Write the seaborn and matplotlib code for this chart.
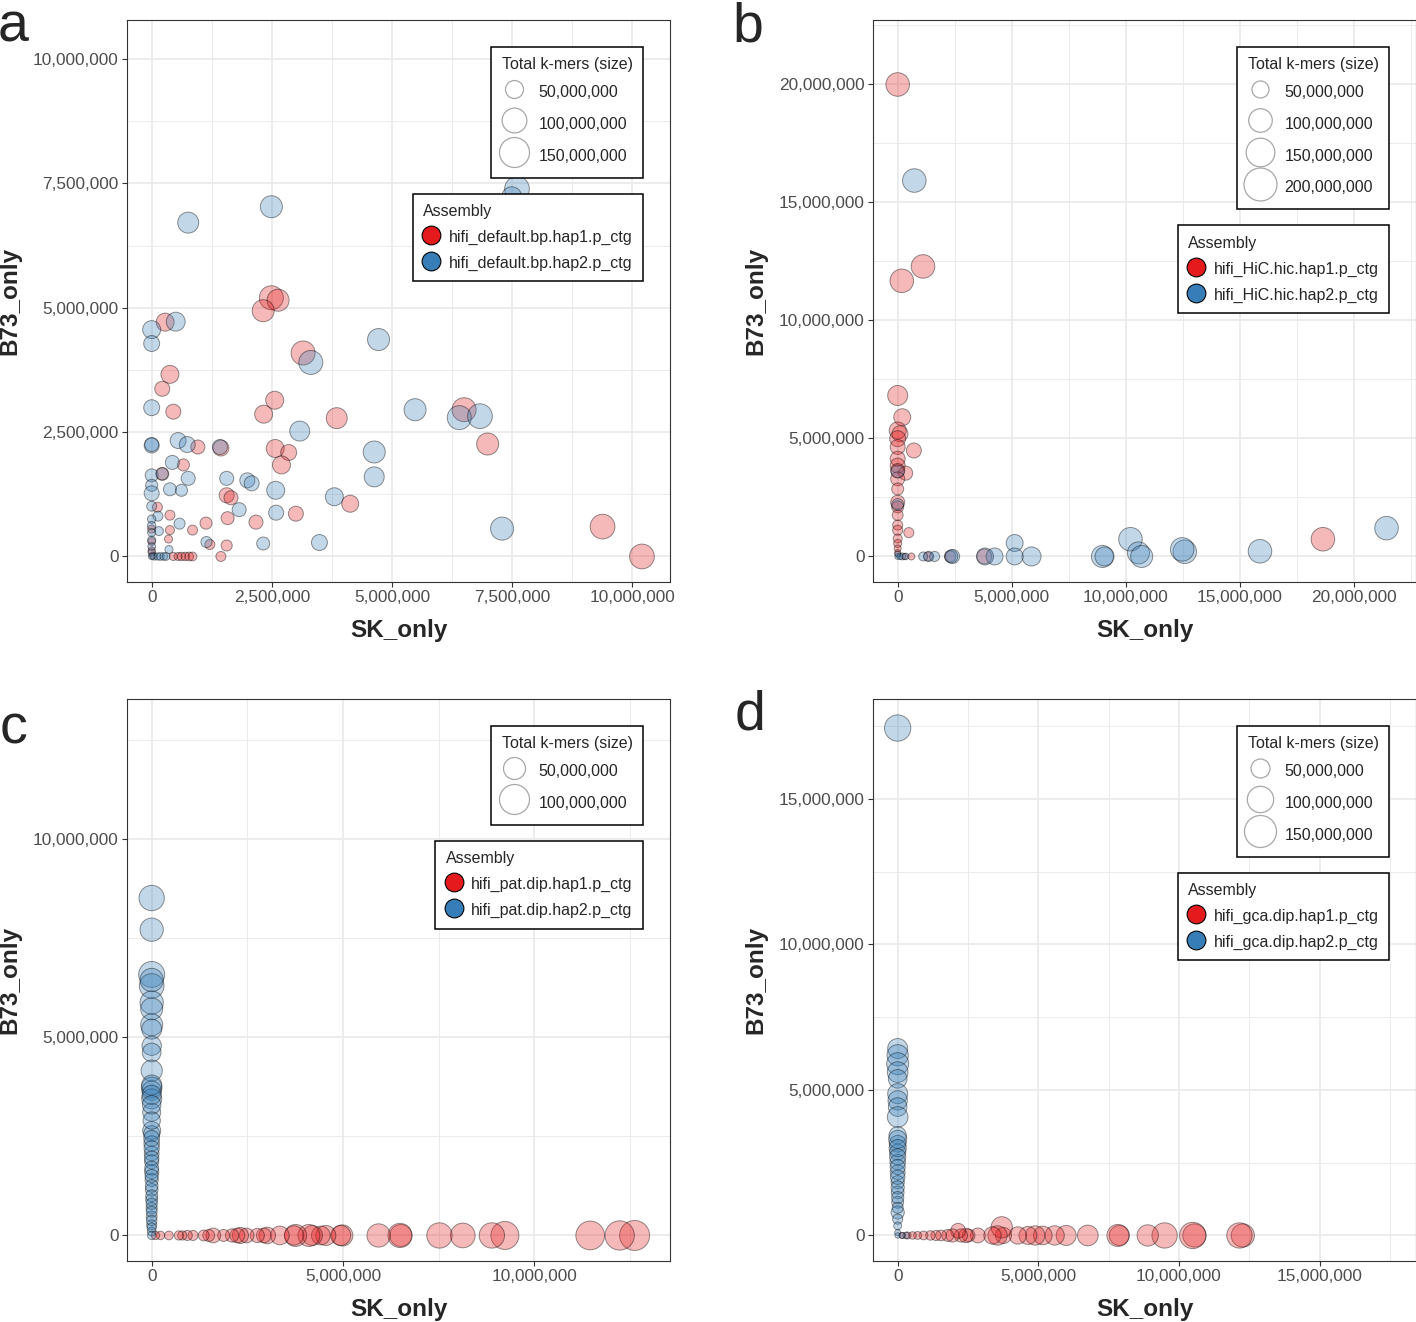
import numpy as np
import pandas as pd
import matplotlib
matplotlib.use("Agg")
import matplotlib.pyplot as plt
import seaborn as sns
from matplotlib.lines import Line2D
from matplotlib.ticker import MultipleLocator, FuncFormatter

sns.set_theme(style="white")
plt.rcParams['font.family'] = ['Liberation Sans', 'DejaVu Sans']

RED = "#E41A1C"
BLUE = "#377EB8"

# all values in millions of k-mers
# ---- panel a : hifi_default.bp
a_hap1_sk = [2.49, 2.63, 2.32, 0.28, 3.15, 0.38, 0.22, 0.45, 2.56, 2.33, 3.85, 0.96, 1.44, 2.57,
             2.85, 2.70, 0.66, 0.22, 1.56, 1.65, 4.13, 3.00, 2.17, 1.58, 1.13, 0.85, 0.38, 0.38,
             0.35, 0.12, 1.21, 1.56, 1.44, 0.45, 0.55, 0.62, 0.70, 0.78, 0.85, 0.00, 0.00, 0.00,
             0.02, 6.50, 6.99, 9.38, 10.20]
a_hap1_b73 = [5.20, 5.15, 4.94, 4.71, 4.09, 3.66, 3.37, 2.91, 3.14, 2.86, 2.78, 2.20, 2.18, 2.17,
              2.09, 1.84, 1.84, 1.66, 1.23, 1.18, 1.06, 0.86, 0.69, 0.77, 0.67, 0.53, 0.83, 0.53,
              0.35, 0.99, 0.24, 0.22, 0.00, 0.00, 0.00, 0.00, 0.00, 0.00, 0.00, 0.30, 0.12, 0.55,
              0.02, 2.95, 2.26, 0.60, 0.00]
a_hap1_total = [94, 78, 78, 50, 94, 50, 33, 33, 50, 50, 70, 28, 38, 50,
                38, 50, 19, 23, 33, 28, 44, 33, 28, 23, 19, 11, 11, 8,
                5, 11, 11, 15, 11, 5, 5, 6, 6, 7, 7, 4, 3, 5,
                2, 94, 78, 102, 111]

a_hap2_sk = [2.49, 0.76, 0.00, 0.00, 0.50, 4.72, 3.31, 0.00, 3.08, 0.00, 0.00, 0.55, 0.74, 4.63,
             0.43, 0.76, 0.00, 0.00, 0.00, 0.38, 0.62, 1.56, 1.99, 2.08, 2.58, 4.63, 3.80, 1.82,
             2.59, 0.58, 1.14, 2.32, 3.49, 0.00, 0.13, 0.15, 0.36, 1.42, 0.22,
             7.60, 7.49, 5.48, 6.40, 6.83, 7.29,
             0.00, 0.00, 0.00, 0.00, 0.00, 0.00, 0.05, 0.12, 0.18, 0.25, 0.30, 0.00]
a_hap2_b73 = [7.03, 6.71, 4.56, 4.28, 4.72, 4.36, 3.90, 2.99, 2.52, 2.23, 2.25, 2.33, 2.25, 2.10,
              1.89, 1.57, 1.63, 1.43, 1.27, 1.35, 1.33, 1.57, 1.53, 1.47, 1.33, 1.60, 1.20, 0.94,
              0.88, 0.66, 0.29, 0.26, 0.28, 1.01, 0.81, 0.51, 0.14, 2.20, 1.66,
              7.39, 7.23, 2.95, 2.79, 2.82, 0.56,
              0.75, 0.62, 0.48, 0.33, 0.20, 0.08, 0.00, 0.00, 0.00, 0.00, 0.00, 0.00]
a_hap2_total = [78, 70, 50, 38, 56, 78, 94, 38, 63, 33, 28, 38, 38, 78,
                28, 28, 23, 19, 33, 23, 19, 28, 33, 33, 50, 63, 50, 28,
                33, 15, 15, 23, 38, 11, 11, 8, 5, 33, 19,
                150, 63, 78, 94, 102, 86,
                6, 6, 5, 5, 4, 3, 3, 3, 4, 4, 4, 1]

# ---- panel b : hifi_HiC.hic
b_hap1_sk = [0.00, 1.11, 0.18, 18.65, 0.00, 0.20, 0.71, 0.00, 0.10, 0.00, 0.00, 0.00, 0.00, 0.35,
             0.00, 0.00, 0.00, 0.00, 0.00, 0.00, 0.00, 0.00, 0.49, 0.00, 0.00, 0.00, 0.00, 3.80,
             1.33, 0.60, 0.30, 2.30]
b_hap1_b73 = [20.00, 12.29, 11.68, 0.73, 6.82, 5.90, 4.49, 5.34, 5.20, 4.99, 4.64, 4.14, 3.85, 3.53,
              3.64, 3.29, 2.86, 2.30, 2.10, 1.75, 1.33, 1.11, 1.01, 0.76, 0.55, 0.34, 0.16, 0.00,
              0.00, 0.00, 0.00, 0.00]
b_hap1_total = [165, 143, 143, 188, 71, 50, 38, 50, 44, 44, 38, 38, 38, 33,
                33, 33, 23, 33, 23, 18, 15, 15, 15, 11, 8, 5, 3, 38,
                11, 5, 3, 20]

b_hap2_sk = [0.73, 21.44, 15.89, 12.59, 12.48, 10.21, 10.56, 10.70, 8.98, 9.07, 5.87, 5.13, 5.13,
             4.25, 3.83, 2.41, 2.35, 1.62, 1.36, 1.12, 0.20, 0.00, 0.00, 0.00, 0.10, 0.35, 0.00]
b_hap2_b73 = [15.93, 1.20, 0.22, 0.20, 0.30, 0.73, 0.15, 0.00, 0.00, 0.00, 0.00, 0.57, 0.00,
              0.00, 0.00, 0.00, 0.00, 0.00, 0.00, 0.00, 0.00, 3.60, 2.20, 0.00, 0.00, 0.00, 0.10]
b_hap2_total = [143, 200, 143, 123, 104, 104, 87, 87, 87, 64, 64, 50, 50,
                50, 50, 33, 28, 15, 15, 11, 5, 28, 23, 2, 3, 4, 2]

# ---- panel c : hifi_pat.dip
c_hap1_sk = [12.62, 12.23, 11.46, 9.23, 8.89, 8.13, 7.52, 6.51, 6.49, 5.93, 4.98, 4.94, 4.55, 4.42,
             4.20, 4.11, 3.76, 3.72, 3.35, 3.02, 2.93, 2.76, 2.48, 2.32, 2.24, 2.10, 1.88, 1.61,
             1.49, 1.36, 1.08, 0.93, 0.80, 0.71, 0.45, 0.23, 0.10]
c_hap1_b73 = [0.0] * len(c_hap1_sk)
c_hap1_total = [105, 95, 91, 86, 69, 65, 69, 50, 62, 57, 46, 40, 40, 34,
                40, 50, 50, 37, 34, 25, 18, 16, 18, 23, 18, 13, 9, 18,
                9, 6, 4, 4, 2, 2, 1, 0.5, 0]

c_hap2_b73 = [8.52, 7.72, 6.59, 6.30, 6.45, 5.88, 5.72, 5.32, 5.21, 4.79, 4.62, 4.16, 3.74, 3.66,
              3.45, 3.11, 2.65, 2.57, 2.32, 2.07, 1.86, 1.61, 1.40, 1.15, 0.90, 0.69, 0.48, 0.27,
              0.10, 0.00, 3.80, 3.55, 3.30, 2.90, 2.45, 2.20, 1.95, 1.70, 1.50, 1.25, 1.00, 0.80,
              0.60, 0.38, 0.20]
c_hap2_sk = [0.0] * len(c_hap2_b73)
c_hap2_total = [69, 57, 73, 65, 57, 57, 50, 50, 40, 37, 34, 46, 43, 37,
                40, 31, 31, 23, 21, 18, 16, 16, 13, 11, 9, 7, 6, 4,
                1, 0, 40, 36, 33, 28, 22, 20, 17, 15, 13, 11, 9, 7,
                6, 5, 2]

# ---- panel d : hifi_gca.dip
d_hap1_sk = [12.27, 12.15, 10.55, 10.49, 9.49, 8.89, 7.88, 7.83, 6.76, 5.99, 5.58, 5.16, 4.89, 4.63,
             4.27, 3.76, 3.70, 3.55, 3.37, 2.85, 2.52, 2.43, 2.25, 2.15, 1.95, 1.78, 1.54, 1.36,
             1.16, 0.92, 0.71, 0.53, 0.35, 0.17]
d_hap1_b73 = [0.00, 0.00, 0.00, 0.00, 0.00, 0.00, 0.00, 0.00, 0.00, 0.00, 0.00, 0.00, 0.00, 0.00,
              0.00, 0.00, 0.28, 0.00, 0.00, 0.00, 0.00, 0.00, 0.00, 0.16, 0.00, 0.00, 0.00, 0.00,
              0.00, 0.00, 0.00, 0.00, 0.00, 0.00]
d_hap1_total = [77, 92, 77, 103, 92, 64, 56, 69, 60, 56, 52, 48, 52, 44,
                41, 35, 64, 52, 41, 29, 20, 27, 22, 29, 22, 17, 13, 11,
                9, 7, 5, 4, 3, 1]

d_hap2_b73 = [17.43, 6.42, 6.19, 5.90, 5.61, 5.38, 4.87, 4.64, 4.41, 4.07, 3.44, 3.15, 2.86, 2.52,
              2.17, 1.83, 1.48, 1.14, 0.79, 0.56, 0.33, 0.10, 0.00, 3.30, 3.00, 2.70, 2.35, 2.00,
              1.65, 1.30, 0.95, 0.00, 0.00]
d_hap2_sk = [0.00] * 31 + [0.30, 0.15]
d_hap2_total = [155, 56, 64, 69, 60, 48, 56, 52, 48, 60, 41, 38, 35, 32,
                29, 22, 20, 17, 22, 11, 5, 1, 0, 45, 40, 35, 30, 27,
                22, 18, 14, 2, 1]

panels = [
    dict(tag="a", hap1=(a_hap1_sk, a_hap1_b73, a_hap1_total), hap2=(a_hap2_sk, a_hap2_b73, a_hap2_total),
         names=["hifi_default.bp.hap1.p_ctg", "hifi_default.bp.hap2.p_ctg"],
         top=10.27, major=2.5, size0=36, size_slope=5.76, breaks=[50, 100, 150]),
    dict(tag="b", hap1=(b_hap1_sk, b_hap1_b73, b_hap1_total), hap2=(b_hap2_sk, b_hap2_b73, b_hap2_total),
         names=["hifi_HiC.hic.hap1.p_ctg", "hifi_HiC.hic.hap2.p_ctg"],
         top=21.65, major=5, size0=22, size_slope=5.33, breaks=[50, 100, 150, 200]),
    dict(tag="c", hap1=(c_hap1_sk, c_hap1_b73, c_hap1_total), hap2=(c_hap2_sk, c_hap2_b73, c_hap2_total),
         names=["hifi_pat.dip.hap1.p_ctg", "hifi_pat.dip.hap2.p_ctg"],
         top=12.9, major=5, size0=68, size_slope=8.32, breaks=[50, 100]),
    dict(tag="d", hap1=(d_hap1_sk, d_hap1_b73, d_hap1_total), hap2=(d_hap2_sk, d_hap2_b73, d_hap2_total),
         names=["hifi_gca.dip.hap1.p_ctg", "hifi_gca.dip.hap2.p_ctg"],
         top=17.55, major=5, size0=29.5, size_slope=6.63, breaks=[50, 100, 150]),
]

# axes boxes in pixels (left, top) of a 1416x1322 canvas
W, H = 1416, 1322
boxes = {"a": (127, 20), "b": (873, 20), "c": (127, 699), "d": (873, 699)}
AW, AH = 543, 562
labels_pos = {"a": (-2, 41), "b": (732, 42), "c": (0, 743), "d": (735, 730)}

fig = plt.figure(figsize=(W / 100, H / 100), dpi=100)
PX2 = 0.72 ** 2  # px^2 -> pt^2 at 100 dpi
LEG_FS = 11.5

for p in panels:
    l, t = boxes[p["tag"]]
    ax = fig.add_axes([l / W, 1 - (t + AH) / H, AW / W, AH / H])

    frames = []
    for (sk, b73, tot), name in zip([p["hap1"], p["hap2"]], p["names"]):
        frames.append(pd.DataFrame({"SK_only": np.array(sk) * 1e6,
                                    "B73_only": np.array(b73) * 1e6,
                                    "total": np.array(tot) * 1e6,
                                    "Assembly": name}))
    df = pd.concat(frames, ignore_index=True)

    s0 = p["size0"] * PX2
    s100 = (p["size0"] + 100 * p["size_slope"]) * PX2
    sns.scatterplot(data=df, x="SK_only", y="B73_only", hue="Assembly", hue_order=p["names"],
                    palette=[RED, BLUE], size="total", sizes=(s0, s100), size_norm=(0, 100e6),
                    edgecolor="black", linewidth=0.7, legend=False, ax=ax, zorder=3)
    coll = ax.collections[-1]
    fc = coll.get_facecolors()
    fc[:, 3] = 0.3
    coll.set_facecolor(fc)
    coll.set_edgecolor((0, 0, 0, 0.42))

    M = p["top"] * 1e6
    ax.set_xlim(-0.05 * M, 1.05 * M)
    ax.set_ylim(-0.05 * M, 1.05 * M)
    for axis in (ax.xaxis, ax.yaxis):
        axis.set_major_locator(MultipleLocator(p["major"] * 1e6))
        axis.set_minor_locator(MultipleLocator(p["major"] * 0.5e6))
        axis.set_major_formatter(FuncFormatter(lambda v, pos: f"{v:,.0f}"))
    ax.set_axisbelow(True)
    ax.grid(which="major", color="#EBEBEB", linewidth=1.3)
    ax.grid(which="minor", color="#EBEBEB", linewidth=0.7)
    ax.tick_params(which="major", direction="out", length=3.6, width=0.8, color="#333333",
                   labelsize=12.4, labelcolor="#4D4D4D", pad=2.5, bottom=True, left=True)
    ax.tick_params(which="minor", length=0)
    for sp in ax.spines.values():
        sp.set_color("#333333")
        sp.set_linewidth(0.8)
    ax.set_xlabel("SK_only", fontsize=17.5, fontweight="bold", labelpad=10)
    ax.set_ylabel("B73_only", fontsize=17.5, fontweight="bold", labelpad=8)

    # size legend
    size_handles = [Line2D([], [], ls="none", marker="o",
                           markersize=np.sqrt((p["size0"] + v * p["size_slope"]) * PX2),
                           mfc="none", mec="#A8A8A8", mew=0.9) for v in p["breaks"]]
    leg1 = ax.legend(size_handles, [f"{v * 1e6:,.0f}" for v in p["breaks"]],
                     title="Total k-mers (size)", loc="upper right", bbox_to_anchor=(0.9503, 0.952),
                     borderaxespad=0, frameon=True, fancybox=False, edgecolor="black",
                     facecolor="white", framealpha=1, fontsize=LEG_FS, title_fontsize=LEG_FS,
                     handlelength=1.6, handleheight=1.9, labelspacing=0.5, borderpad=0.65,
                     handletextpad=0.7, alignment="left")
    leg1.get_frame().set_linewidth(1.1)
    ax.add_artist(leg1)
    fig.canvas.draw()
    bb = leg1.get_window_extent()
    y_anchor = ax.transAxes.inverted().transform((0, bb.y0 - 16))[1]

    asm_handles = [Line2D([], [], ls="none", marker="o", markersize=13.5, mfc=c, mec="black", mew=0.8)
                   for c in (RED, BLUE)]
    leg2 = ax.legend(asm_handles, p["names"], title="Assembly", loc="upper right",
                     bbox_to_anchor=(0.9503, y_anchor), borderaxespad=0, frameon=True, fancybox=False,
                     edgecolor="black", facecolor="white", framealpha=1, fontsize=LEG_FS,
                     title_fontsize=LEG_FS, handlelength=1.0, handleheight=1.2, labelspacing=0.58,
                     borderpad=0.65, handletextpad=0.6, alignment="left")
    leg2.get_frame().set_linewidth(1.1)

    lx, ly = labels_pos[p["tag"]]
    fig.text(lx / W, 1 - ly / H, p["tag"], fontsize=40, va="baseline", ha="left")

fig.savefig("out.png", dpi=100)
